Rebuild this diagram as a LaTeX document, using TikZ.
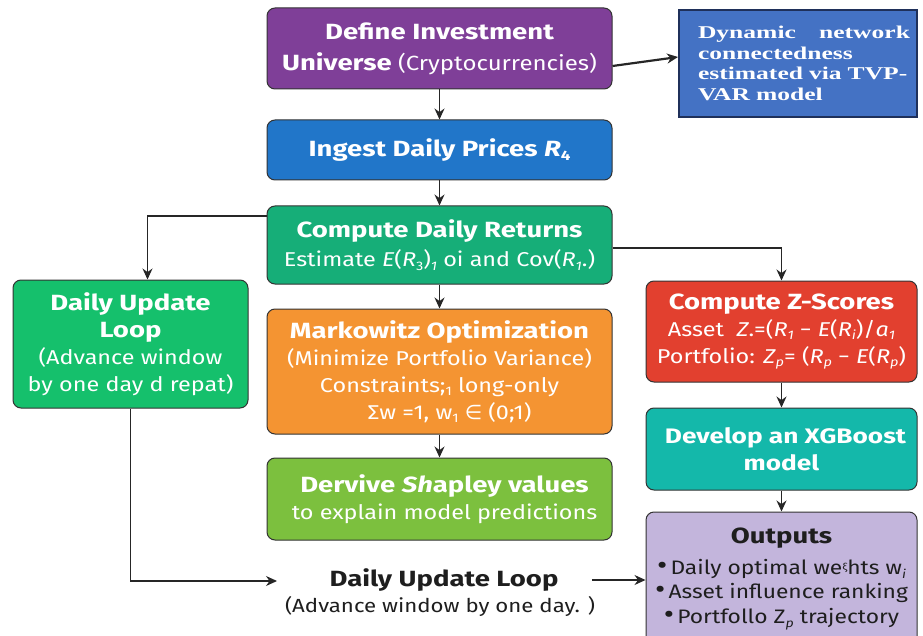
\documentclass[tikz,border=0pt]{standalone}
\usepackage{fontspec}
\setmainfont{Fira Sans}[FakeStretch=1.17, BoldFeatures={FakeStretch=1.25}, BoldItalicFeatures={FakeStretch=1.25}]
\newfontfamily\tvpfont{Liberation Serif}[FakeStretch=1.42]
\newfontfamily\symfont{DejaVu Sans}
\usepackage{tikz}
\usetikzlibrary{arrows.meta}

\definecolor{defpurple}{RGB}{127,63,152}
\definecolor{tvpblue}{RGB}{68,114,196}
\definecolor{tvpedge}{RGB}{31,48,90}
\definecolor{ingblue}{RGB}{33,118,201}
\definecolor{retgreen}{RGB}{22,174,120}
\definecolor{loopgreen}{RGB}{21,192,108}
\definecolor{zred}{RGB}{226,64,47}
\definecolor{markorange}{RGB}{244,148,50}
\definecolor{shapgreen}{RGB}{124,192,62}
\definecolor{xgbteal}{RGB}{20,184,170}
\definecolor{outlav}{RGB}{195,181,220}
\definecolor{textdark}{RGB}{30,30,30}

\newcommand{\lowsub}[1]{\raisebox{-0.35ex}{\scalebox{0.62}{#1}}}
\newcommand{\bigdot}{{\fontsize{27}{24}\selectfont•}}

\begin{document}
\begin{tikzpicture}[x=1pt,y=1pt,yscale=-1,
  procbox/.style={draw=black!80, line width=1pt, rounded corners=8pt, text=white, align=center, inner sep=2pt, font=\fontsize{20}{27}\selectfont},
  arr/.style={-{Stealth[length=11pt,width=10pt]}, line width=1.3pt, draw=black!85},
  branch/.style={-{Stealth[length=11pt,width=10pt]}, line width=1.1pt, draw=black!85}]
\useasboundingbox (0,0) rectangle (923,636);

% Process boxes, middle column
\node (define) at (439.5,48.5) [procbox, fill=defpurple, minimum width=345, minimum height=81, font=\fontsize{20}{31}\selectfont]
  {{\fontsize{22}{31}\selectfont\bfseries Define Investment}\\{\fontsize{22}{31}\selectfont\bfseries Universe} {\fontsize{20.5}{31}\selectfont(Cryptocurrencies)}};
\node (ingest) at (439.5,150) [procbox, fill=ingblue, minimum width=345, minimum height=60]
  {{\fontsize{22}{27}\selectfont\bfseries Ingest Daily Prices \textit{R}\lowsub{4}}};
\node (returns) at (439.5,245) [procbox, fill=retgreen, minimum width=345, minimum height=78, font=\fontsize{20}{29}\selectfont]
  {{\fontsize{22}{29}\selectfont\bfseries Compute Daily Returns}\\Estimate \textit{E}(\textit{R}\lowsub{3})\lowsub{\textit{1}} oi and Cov(\textit{R}\lowsub{\textit{1}}.)};
\node (markowitz) at (439.5,371.5) [procbox, fill=markorange, minimum width=345, minimum height=125]
  {{\fontsize{22}{27}\selectfont\bfseries Markowitz Optimization}\\(Minimize Portfolio Variance)\\Constraints;\lowsub{1} long-only\\\quad Σw =1, w\lowsub{1} {\symfont ∈} (0;1)};
\node (shapley) at (439.5,499) [procbox, fill=shapgreen, minimum width=345, minimum height=82]
  {\hspace*{10pt}{\fontsize{22}{27}\selectfont\bfseries Dervive \textit{Sh}apley values}\\\hspace*{10pt}to explain model predictions};

% Side note, top right
\node (tvp) at (798,63.5) [draw=tvpedge, line width=2pt, fill=tvpblue, minimum width=238, minimum height=107] {};
\node (tvptext) at ([xshift=6]tvp.center) [text=white, text width=212, align=left, inner sep=0pt,
  font=\tvpfont\bfseries\fontsize{18}{20.5}\selectfont]
  {Dynamic\hfill network\\connectedness\\estimated via TVP-\\VAR model};

% Left loop box
\node (loopbox) at (130.5,344) [procbox, fill=loopgreen, minimum width=235, minimum height=128]
  {{\fontsize{22}{27}\selectfont\bfseries Daily Update}\\{\fontsize{22}{27}\selectfont\bfseries Loop}\\(Advance window\\by one day d repat)};

% Right column
\node (zscore) at (781.5,331.5) [procbox, fill=zred, minimum width=271, minimum height=101]
  {{\fontsize{22}{27}\selectfont\bfseries Compute Z-Scores}\\Asset\ \ \textit{Z}.=(\textit{R}\lowsub{\textit{1}} − \textit{E}(\textit{R}\lowsub{\textit{i}})/\textit{a}\lowsub{\textit{1}}\\Portfolio: \textit{Z}\lowsub{\textit{p}}= (\textit{R}\lowsub{\textit{p}} − \textit{E}(\textit{R}\lowsub{\textit{p}})};
\node (xgb) at (781.5,449) [procbox, fill=xgbteal, minimum width=271, minimum height=82]
  {\hspace*{8pt}{\fontsize{21}{27}\selectfont\bfseries Develop an XGBoost}\\{\fontsize{21}{27}\selectfont\bfseries model}};
\node (outputs) at (781.5,579) [procbox, fill=outlav, text=textdark, minimum width=271, minimum height=134, font=\fontsize{19.5}{24.5}\selectfont]
  {{\fontsize{22}{24.5}\selectfont\bfseries Outputs}\\[6pt]\bigdot\,Daily optimal we\raisebox{0.4ex}{\scalebox{0.5}{ξ}}hts w\lowsub{\textit{i}}\\\bigdot\,Asset influence ranking\\\bigdot\,Portfollo Z\lowsub{\textit{p}} trajectory};

% Bottom loop label
\node (looptitle) at (444,580) [text=textdark, font=\fontsize{22}{27}\selectfont\bfseries] {Daily Update Loop};
\node (loopnote) at (440,606) [text=textdark, font=\fontsize{19}{23}\selectfont] {(Advance window by one day. )};
\coordinate (loopin) at (277,581);

% Arrows
\draw[arr, line width=2.2pt] ([yshift=17.5]define.east) -- ([yshift=-6.5]tvp.west);
\draw[arr] (define) -- (ingest);
\draw[arr] (ingest) -- (returns);
\draw[arr] (returns) -- (markowitz);
\draw[arr] (markowitz) -- (shapley);
\draw[branch] ([yshift=-29]returns.west) -| ([xshift=17]loopbox.north);
\draw[branch] ([yshift=3]returns.east) -| (zscore.north);
\draw[arr] (zscore) -- (xgb);
\draw[arr] (xgb) -- (outputs);
\draw[branch] (loopbox.south) |- (loopin);
\draw[branch] ([xshift=30]looptitle.east) -- (outputs.west |- looptitle.east);

\end{tikzpicture}
\end{document}
